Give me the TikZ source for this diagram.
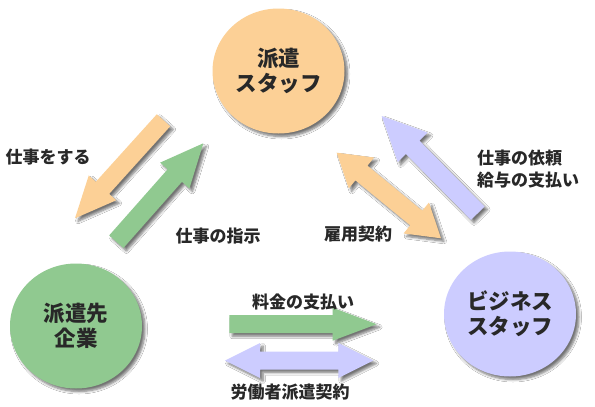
\documentclass[tikz,border=0pt]{standalone}
\usepackage{fontspec}
\newfontfamily\jp{Noto Sans CJK JP}
\usetikzlibrary{calc,shadows,shadows.blur,shapes.geometric}
\definecolor{cor}{RGB}{252,208,150}
\definecolor{cgr}{RGB}{144,201,144}
\definecolor{cla}{RGB}{204,204,255}
\definecolor{ctx}{RGB}{40,40,40}
\newcommand\blockarrow[7]{%
  \coordinate (#4h) at ($(#3)!#7!(#2)$);
  \fill[#1] ($(#2)!#5!90:(#3)$) -- ($(#4h)!#5!90:(#3)$) -- ($(#4h)!#6!90:(#3)$) -- (#3)
    -- ($(#4h)!#6!-90:(#3)$) -- ($(#4h)!#5!-90:(#3)$) -- ($(#2)!#5!-90:(#3)$) -- cycle;
}
\newcommand\dblockarrow[7]{%
  \coordinate (#4a) at ($(#2)!#7!(#3)$);
  \coordinate (#4b) at ($(#3)!#7!(#2)$);
  \fill[#1] (#2) -- ($(#4a)!#6!90:(#3)$) -- ($(#4a)!#5!90:(#3)$) -- ($(#4b)!#5!90:(#3)$)
    -- ($(#4b)!#6!90:(#3)$) -- (#3) -- ($(#4b)!#6!-90:(#3)$) -- ($(#4b)!#5!-90:(#3)$)
    -- ($(#4a)!#5!-90:(#3)$) -- ($(#4a)!#6!-90:(#3)$) -- cycle;
}
\tikzset{
  shad/.style={blur shadow={shadow xshift=3pt, shadow yshift=-3pt, shadow blur radius=2.5pt, shadow blur steps=6, shadow opacity=55}},
  party/.style={ellipse, minimum width=132pt, minimum height=125pt, inner sep=0pt, shad,
    text=ctx, align=center, font=\jp\bfseries\fontsize{21.5}{25}\selectfont},
  lbl/.style={text=ctx, inner sep=0pt, font=\jp\bfseries\fontsize{17}{22}\selectfont},
}
\begin{document}
\begin{tikzpicture}[x=1pt, y=-1pt]
\fill[white] (0,0) rectangle (595,407);
\useasboundingbox (0,0) rectangle (595,407);
% parties
\node[party, fill=cor] (staff) at (278.5,71) {派遣\\スタッフ};
\node[party, fill=cgr] (client) at (76,326) {派遣先\\企業};
\node[party, fill=cla] (biz) at (510,314) {ビジネス\\スタッフ};
% arrow end points
\coordinate (o1s) at (163.5,120.3); \coordinate (o1e) at (75,218.3);
\coordinate (g1s) at (116.3,241.7); \coordinate (g1e) at (203.3,143.3);
\coordinate (l1s) at (477.8,213.2); \coordinate (l1e) at (381.7,116);
\coordinate (o2s) at (336.7,152.7); \coordinate (o2e) at (441,238.3);
\coordinate (g2s) at (229.3,324.2); \coordinate (g2e) at (376.7,324.2);
\coordinate (l2s) at (225,360.5);   \coordinate (l2e) at (373.3,360.5);
% arrows
\blockarrow{cor,shad}{o1s}{o1e}{oa}{9pt}{18.5pt}{41pt}
\blockarrow{cgr,shad}{g1s}{g1e}{ga}{9.5pt}{19.5pt}{43pt}
\blockarrow{cla,shad}{l1s}{l1e}{la}{9.5pt}{21pt}{44pt}
\dblockarrow{cor,shad}{o2s}{o2e}{ob}{9.5pt}{20pt}{32pt}
\blockarrow{cgr,shad}{g2s}{g2e}{gb}{9pt}{16.5pt}{44pt}
\dblockarrow{cla,shad}{l2s}{l2e}{lb}{9pt}{17.5pt}{35pt}
% labels
\node[lbl] (t1) at (48,157) {仕事をする};
\node[lbl] (t2) at (218,236) {仕事の指示};
\node[lbl] (t3) at (358,234) {雇用契約};
\node[lbl, align=left, anchor=west] (t4) at (477,169) {仕事の依頼\\給与の支払い};
\node[lbl] (t5) at (303,302) {料金の支払い};
\node[lbl] (t6) at (290,392) {労働者派遣契約};
\end{tikzpicture}
\end{document}
